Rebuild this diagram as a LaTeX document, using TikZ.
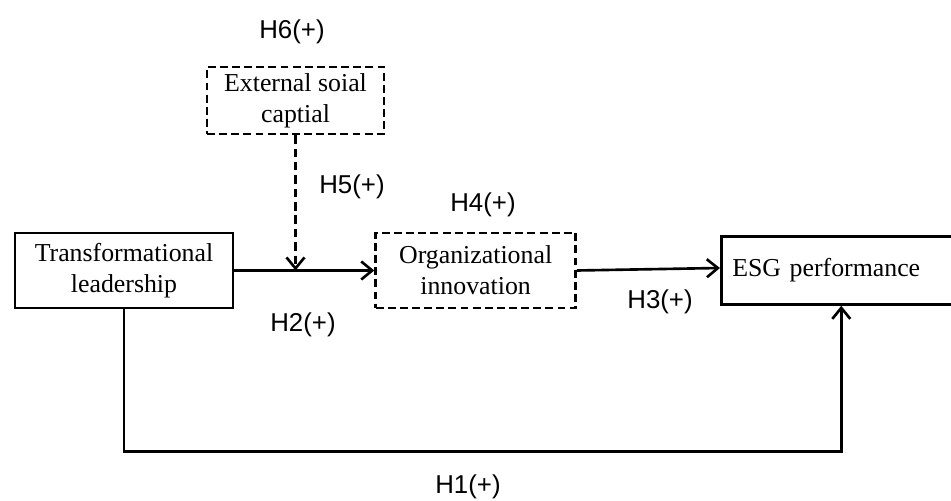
\documentclass[tikz,border=0pt]{standalone}
\usepackage{fontspec}
\setmainfont{Liberation Serif}
\newfontfamily\labelfont{Liberation Sans}
\usetikzlibrary{positioning,arrows.meta}

\begin{document}
\begin{tikzpicture}[>={Straight Barb[length=2.2mm,width=3.6mm]},line width=1.5pt,
  var/.style={draw,rectangle,align=center,inner sep=0pt,font=\fontsize{14.7}{17.6}\selectfont},
  moder/.style={var,dash pattern=on 4.5pt off 2.4pt},
  hyp/.style={font=\labelfont\fontsize{14.7}{17.6}\selectfont},
  arrow/.style={->},
  darrow/.style={->,dash pattern=on 4.8pt off 2.8pt}]
\useasboundingbox (0,0) rectangle (19.02,10.02);
\node[var,minimum width=4.36cm,minimum height=1.5cm] (lead) at (2.48,4.61) {Transformational\\leadership};
\node[moder,minimum width=4.0cm,minimum height=1.5cm,right=2.8cm of lead] (innov) {Organizational\\innovation};
\node[var,minimum height=1.36cm,inner xsep=0.22cm,text width=4.36cm,align=left,right=2.86cm of innov] (esg) {ESG performance};
\node[moder,minimum width=3.54cm,minimum height=1.34cm] (ext) at (5.91,8.01) {External soial\\captial};
\coordinate (mod) at (ext.south |- lead.east);
\draw[arrow] (lead) -- (innov);
\draw[arrow] (innov.east) -- ([yshift=0.05cm]esg.west);
\draw[darrow] (ext) -- (mod);
\draw[arrow] (lead.south) -- ++(0,-2.84) -| (esg.south);
% hypotheses
\node[hyp] (h6) at (5.84,9.38) {H6(+)};
\node[hyp] (h5) at (7.04,6.28) {H5(+)};
\node[hyp] (h4) at (9.66,5.92) {H4(+)};
\node[hyp] (h3) at (13.2,3.98) {H3(+)};
\node[hyp] (h2) at (6.06,3.52) {H2(+)};
\node[hyp] (h1) at (9.36,0.28) {H1(+)};
\end{tikzpicture}
\end{document}
